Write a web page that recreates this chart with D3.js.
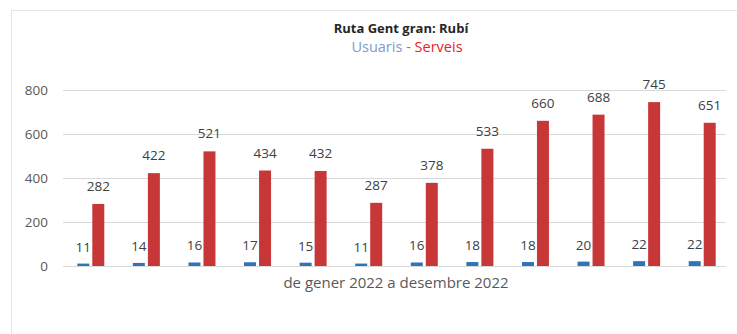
<!DOCTYPE html>
<html>
<head>
<meta charset="utf-8">
<script src="https://cdn.jsdelivr.net/npm/d3@7"></script>
<style>
  html, body { margin: 0; padding: 0; background: #ffffff; }
  svg { display: block; font-family: "Open Sans", "Liberation Sans", sans-serif; }
</style>
</head>
<body>
<svg id="chart" width="737" height="334"></svg>
<script>
// Monthly figures, January to December 2022
const months = ["gen", "feb", "mar", "abr", "mai", "jun", "jul", "ago", "set", "oct", "nov", "des"];
const usuaris = [11, 14, 16, 17, 15, 11, 16, 18, 18, 20, 22, 22];
const serveis = [282, 422, 521, 434, 432, 287, 378, 533, 660, 688, 745, 651];
const yTicks = [0, 200, 400, 600, 800];

const svg = d3.select("#chart");
const W = 737, H = 334;
const plot = { left: 63, right: 730, top: 90, bottom: 266 };

// frame
svg.append("rect")
  .attr("x", 11.5).attr("y", 10.5)
  .attr("width", W).attr("height", H)
  .attr("fill", "#ffffff")
  .attr("stroke", "#e4e4e4");

const x = d3.scaleBand().domain(months).range([plot.left, plot.right]);
const y = d3.scaleLinear().domain([0, 800]).range([plot.bottom, plot.top]);

const barW = 12, gap = 3;

// gridlines + tick labels
const yAxis = d3.axisLeft(y).tickValues(yTicks).tickSize(-(plot.right - plot.left - 4)).tickPadding(15);
const gy = svg.append("g").attr("transform", `translate(${plot.left},0)`).call(yAxis);
gy.select(".domain").remove();
gy.selectAll(".tick line").attr("stroke", "#d9d9d9").attr("stroke-width", 1);
gy.selectAll(".tick text").attr("fill", "#595959").attr("font-size", 13.5)
  .attr("font-family", "'Open Sans', sans-serif");

const center = d => x(d) + x.bandwidth() / 2;

// Usuaris bars
svg.append("g").selectAll("rect").data(usuaris).join("rect")
  .attr("x", (d, i) => center(months[i]) - gap / 2 - barW)
  .attr("y", d => y(d))
  .attr("width", barW)
  .attr("height", d => y(0) - y(d))
  .attr("fill", "#2e75b6");

// Serveis bars
svg.append("g").selectAll("rect").data(serveis).join("rect")
  .attr("x", (d, i) => center(months[i]) + gap / 2)
  .attr("y", d => y(d))
  .attr("width", barW)
  .attr("height", d => y(0) - y(d))
  .attr("fill", "#c83737");

// value labels
const lbl = { fill: "#404040", size: 13.5 };
svg.append("g").selectAll("text").data(usuaris).join("text")
  .attr("x", (d, i) => center(months[i]) - gap / 2 - barW / 2)
  .attr("y", d => y(d) - 12)
  .attr("text-anchor", "middle")
  .attr("fill", lbl.fill).attr("font-size", lbl.size)
  .text(d => d);

svg.append("g").selectAll("text").data(serveis).join("text")
  .attr("x", (d, i) => center(months[i]) + gap / 2 + barW / 2)
  .attr("y", d => y(d) - 13)
  .attr("text-anchor", "middle")
  .attr("fill", lbl.fill).attr("font-size", lbl.size)
  .text(d => d);

// title and subtitle
svg.append("text")
  .attr("x", 401).attr("y", 33)
  .attr("text-anchor", "middle")
  .attr("font-size", 13).attr("font-weight", "bold").attr("fill", "#262626")
  .text("Ruta Gent gran: Rubí");

const sub = svg.append("text")
  .attr("x", 407).attr("y", 52)
  .attr("text-anchor", "middle")
  .attr("font-size", 14.5);
sub.append("tspan").attr("fill", "#7b9bd2").text("Usuaris");
sub.append("tspan").attr("fill", "#7f7f7f").text(" - ");
sub.append("tspan").attr("fill", "#e0242c").text("Serveis");

// axis caption
svg.append("text")
  .attr("x", 396).attr("y", 288)
  .attr("text-anchor", "middle")
  .attr("font-size", 15).attr("fill", "#595959")
  .text("de gener 2022 a desembre 2022");
</script>
</body>
</html>
